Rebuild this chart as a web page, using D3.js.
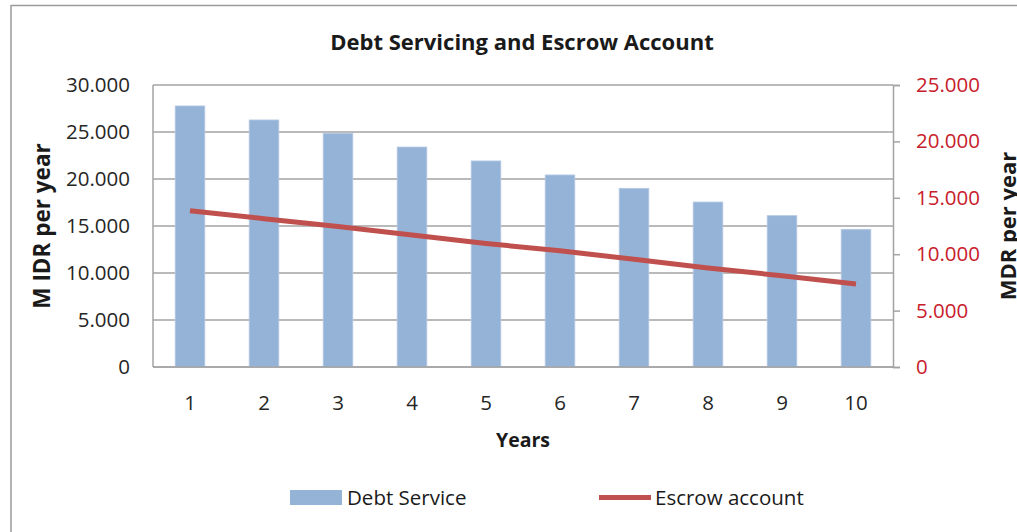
<!DOCTYPE html>
<html>
<head>
<meta charset="utf-8">
<script src="https://cdn.jsdelivr.net/npm/d3@7"></script>
<style>
  body { margin: 0; background: #fff; }
  text { font-family: "Open Sans", sans-serif; }
</style>
</head>
<body>
<svg id="chart" width="1017" height="532"></svg>
<script>
// values
const years = ["1", "2", "3", "4", "5", "6", "7", "8", "9", "10"]
const debtService = [27770, 26280, 24860, 23400, 21920, 20430, 19010, 17550, 16100, 14650]
const escrow = [13850, 13150, 12450, 11700, 10950, 10300, 9550, 8780, 8090, 7360]
const leftTicks = [0, 5000, 10000, 15000, 20000, 25000, 30000]
const rightTicks = [0, 5000, 10000, 15000, 20000, 25000]

const svg = d3.select("#chart")
const m = { left: 153, right: 893, top: 85, bottom: 367 }
const gridCol = "#a3a3a3"
const red = "#c8202b"

// format 25000 -> 25.000
const fmt = v => v == 0 ? "0" : d3.format(",")(v).replace(/,/g, ".")

// outer frame (only top and left visible)
svg.append("line").attr("x1", 11).attr("x2", 1017).attr("y1", 5.5).attr("y2", 5.5)
  .attr("stroke", "#9a9a9a").attr("stroke-width", 1.5)
svg.append("line").attr("x1", 11).attr("x2", 11).attr("y1", 5).attr("y2", 532)
  .attr("stroke", "#9a9a9a").attr("stroke-width", 1.5)

const x = d3.scaleBand().domain(years).range([m.left, m.right]).paddingInner(0.6).paddingOuter(0.3)
const yL = d3.scaleLinear().domain([0, 30000]).range([m.bottom, m.top])
const yR = d3.scaleLinear().domain([0, 25000]).range([m.bottom, m.top])

// gridlines
svg.append("g")
  .selectAll("line")
  .data(leftTicks)
  .join("line")
  .attr("x1", m.left).attr("x2", m.right)
  .attr("y1", d => yL(d)).attr("y2", d => yL(d))
  .attr("stroke", gridCol).attr("stroke-width", 1.5)

// bars
svg.append("g")
  .selectAll("rect")
  .data(debtService)
  .join("rect")
  .attr("x", (d, i) => x(years[i]))
  .attr("y", d => yL(d))
  .attr("width", x.bandwidth())
  .attr("height", d => yL(0) - yL(d))
  .attr("fill", "#95b3d7")
  .attr("stroke", "#b4c9e4").attr("stroke-width", 0.8)

// plot frame
svg.append("line").attr("x1", m.left).attr("x2", m.left).attr("y1", m.top).attr("y2", m.bottom)
  .attr("stroke", gridCol).attr("stroke-width", 1.5)
svg.append("line").attr("x1", m.left).attr("x2", m.right).attr("y1", m.bottom).attr("y2", m.bottom)
  .attr("stroke", gridCol).attr("stroke-width", 1.5)

// escrow line
const line = d3.line()
  .x((d, i) => x(years[i]) + x.bandwidth() / 2)
  .y(d => yR(d))
svg.append("path")
  .datum(escrow)
  .attr("d", line)
  .attr("fill", "none")
  .attr("stroke", "#c0504d")
  .attr("stroke-width", 5)

// left axis
const axL = svg.append("g")
  .attr("transform", `translate(${m.left},0)`)
  .call(d3.axisLeft(yL).tickValues(leftTicks).tickFormat(fmt).tickSize(0).tickPadding(23))
axL.select(".domain").remove()
axL.selectAll("text").attr("font-size", 20.5).attr("fill", "#262626")

// right axis
const axR = svg.append("g")
  .attr("transform", `translate(${m.right},0)`)
  .call(d3.axisRight(yR).tickValues(rightTicks).tickFormat(fmt).tickSize(7).tickPadding(16))
axR.select(".domain").attr("stroke", gridCol).attr("stroke-width", 1.5)
axR.selectAll("line").attr("stroke", gridCol).attr("stroke-width", 1.5)
axR.selectAll("text").attr("font-size", 20.5).attr("fill", red)

// x axis labels
const axX = svg.append("g")
  .attr("transform", `translate(0,${m.bottom})`)
  .call(d3.axisBottom(x).tickSize(0).tickPadding(28))
axX.select(".domain").remove()
axX.selectAll("text").attr("font-size", 20.5).attr("fill", "#262626")

// titles
svg.append("text").attr("x", 522).attr("y", 50).attr("text-anchor", "middle")
  .attr("font-size", 22).attr("font-weight", "bold").attr("fill", "#1a1a1a")
  .text("Debt Servicing and Escrow Account")
svg.append("text").attr("x", 523).attr("y", 447).attr("text-anchor", "middle")
  .attr("font-size", 19.5).attr("font-weight", "bold").attr("fill", "#1a1a1a")
  .text("Years")
svg.append("text").attr("transform", "translate(50,226) rotate(-90)").attr("text-anchor", "middle")
  .attr("font-size", 22.5).attr("font-weight", "bold").attr("fill", "#1a1a1a")
  .text("M IDR per year")
svg.append("text").attr("transform", "translate(1016,226) rotate(-90)").attr("text-anchor", "middle")
  .attr("font-size", 22).attr("font-weight", "bold").attr("fill", "#1a1a1a")
  .text("MDR per year")

// legend
const lg = svg.append("g")
lg.append("rect").attr("x", 290).attr("y", 490).attr("width", 52).attr("height", 15).attr("fill", "#95b3d7")
lg.append("text").attr("x", 347).attr("y", 505).attr("font-size", 20.5).attr("fill", "#1a1a1a").text("Debt Service")
lg.append("line").attr("x1", 599).attr("x2", 651).attr("y1", 497.5).attr("y2", 497.5)
  .attr("stroke", "#c0504d").attr("stroke-width", 5)
lg.append("text").attr("x", 655).attr("y", 505).attr("font-size", 20.5).attr("fill", "#1a1a1a").text("Escrow account")
</script>
</body>
</html>
